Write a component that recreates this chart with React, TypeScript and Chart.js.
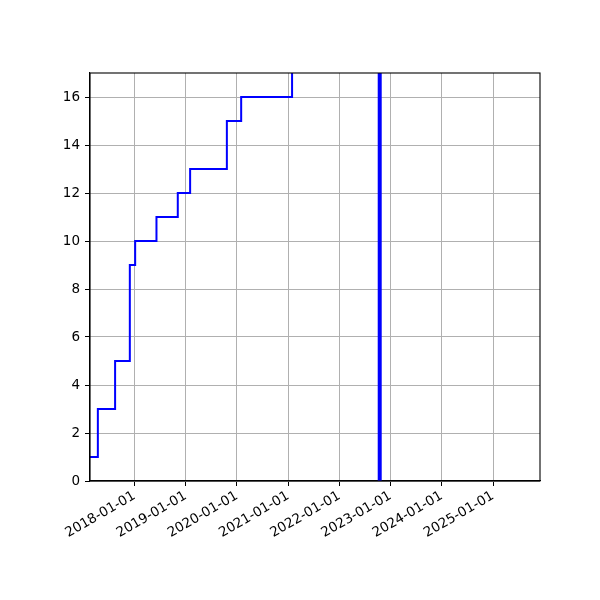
import React, { useEffect, useRef } from 'react';
import { Chart, registerables } from 'chart.js';

Chart.register(...registerables);

// step dates (value holds from this date on) and the count reached on each
const stepDates = [
  '2017-02-18', '2017-04-15', '2017-08-16', '2017-11-29', '2018-01-06',
  '2018-06-07', '2018-11-06', '2019-02-02', '2019-10-22', '2020-02-01',
  '2021-01-29', '2022-10-16',
];
const stepValues = [1, 3, 5, 9, 10, 11, 12, 13, 15, 16, 18, 18];

// thick vertical marker
const markerDate = '2022-10-16';
const markerRange = [0, 100];

const xMinDate = '2017-02-18';
const xMaxDate = '2025-12-02';
const tickYears = [2018, 2019, 2020, 2021, 2022, 2023, 2024, 2025];
const yTicks = [0, 2, 4, 6, 8, 10, 12, 14, 16];

const ms = (d: string) => Date.parse(d + 'T00:00:00Z');

const fmt = (v: number) => {
  const d = new Date(v);
  const p = (n: number) => String(n).padStart(2, '0');
  return `${d.getUTCFullYear()}-${p(d.getUTCMonth() + 1)}-${p(d.getUTCDate())}`;
};

const frame = {
  id: 'frame',
  afterDatasetsDraw(chart: any) {
    const { ctx, chartArea: a } = chart;
    ctx.save();
    ctx.strokeStyle = '#000';
    ctx.lineWidth = 1.1;
    ctx.strokeRect(a.left, a.top, a.right - a.left, a.bottom - a.top);
    ctx.restore();
  },
};

const App: React.FC = () => {
  const chartRef = useRef<HTMLCanvasElement | null>(null);
  const chartInstance = useRef<Chart | null>(null);

  useEffect(() => {
    document.body.style.margin = '0';
    if (!chartRef.current) return;
    if (chartInstance.current) chartInstance.current.destroy();

    const font = { family: 'DejaVu Sans', size: 13.5 };

    chartInstance.current = new Chart(chartRef.current, {
      type: 'line',
      data: {
        datasets: [
          {
            data: stepDates.map((d, i) => ({ x: ms(d), y: stepValues[i] })),
            borderColor: '#0000ff',
            borderWidth: 2,
            stepped: 'before',
            pointRadius: 0,
            fill: false,
            clip: 0,
          },
          {
            data: markerRange.map((y) => ({ x: ms(markerDate), y })),
            borderColor: '#0000ff',
            borderWidth: 4,
            pointRadius: 0,
            fill: false,
            clip: 0,
          },
        ],
      },
      plugins: [frame],
      options: {
        animation: false,
        responsive: false,
        devicePixelRatio: 1,
        layout: { padding: { left: 0, top: 73, right: 60, bottom: 0 } },
        plugins: { legend: { display: false }, tooltip: { enabled: false } },
        scales: {
          x: {
            type: 'linear',
            min: ms(xMinDate),
            max: ms(xMaxDate),
            afterBuildTicks: (scale: any) => {
              scale.ticks = tickYears.map((y) => ({ value: ms(`${y}-01-01`) }));
            },
            afterFit: (scale: any) => {
              scale.height = 119;
            },
            ticks: {
              callback: (v: any) => fmt(Number(v)),
              minRotation: 30,
              maxRotation: 30,
              autoSkip: false,
              color: '#000',
              font,
              padding: 2,
            },
            grid: { color: '#b0b0b0', lineWidth: 1, tickLength: 5, tickColor: '#000' },
            border: { color: '#000', width: 1.1 },
          },
          y: {
            min: 0,
            max: 17,
            afterBuildTicks: (scale: any) => {
              scale.ticks = yTicks.map((v) => ({ value: v }));
            },
            afterFit: (scale: any) => {
              scale.width = 90;
            },
            ticks: { color: '#000', font, padding: 5 },
            grid: { color: '#b0b0b0', lineWidth: 1, tickLength: 5, tickColor: '#000' },
            border: { color: '#000', width: 1.1 },
          },
        },
      },
    });

    return () => {
      if (chartInstance.current) {
        chartInstance.current.destroy();
        chartInstance.current = null;
      }
    };
  }, []);

  return (
    <div style={{ width: 600, height: 600, background: '#fff' }}>
      <canvas ref={chartRef} width={600} height={600}></canvas>
    </div>
  );
};

export default App;
